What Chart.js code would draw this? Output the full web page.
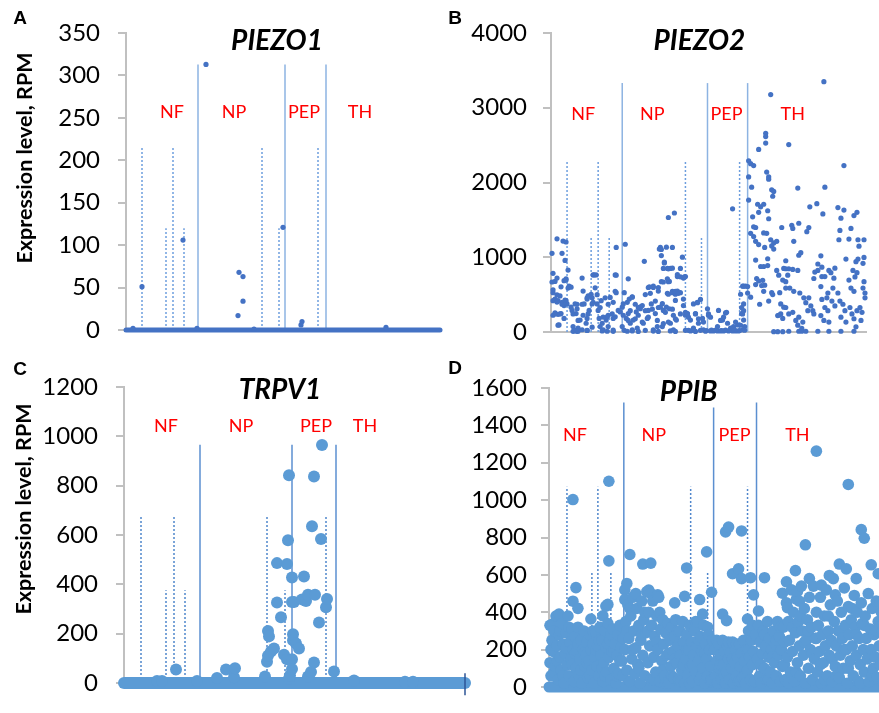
<!DOCTYPE html>
<html><head><meta charset="utf-8">
<script src="https://cdn.jsdelivr.net/npm/chart.js@4.4.0/dist/chart.umd.min.js"></script>
<style>
html,body{margin:0;padding:0;width:879px;height:713px;overflow:hidden;background:#fff;position:relative;}
canvas{position:absolute;}
</style></head><body>
<canvas id="cA" width="450" height="360" style="left:0;top:0;width:450px;height:360px"></canvas>
<canvas id="cB" width="439" height="360" style="left:440px;top:0;width:439px;height:360px"></canvas>
<canvas id="cC" width="475" height="363" style="left:0;top:350px;width:475px;height:363px"></canvas>
<canvas id="cD" width="455" height="363" style="left:440px;top:350px;width:455px;height:363px"></canvas>
<script>
// ---------- shared labels ----------
const groupNames = ['NF', 'NP', 'PEP', 'TH'];
const yAxisTitle = 'Expression level, RPM';

// ---------- Panel A : PIEZO1 (cell index, RPM) ----------
const piezo1NF = [[7,2],[16,51],[57,106],[71,2]];
const piezo1NP = [[80,313],[112,17],[113,68],[117,63],[117,34],[128,1],[157,121]];
const piezo1PEP = [[175,6],[176,10]];
const piezo1TH = [[260,3]];
const piezo1Zero = [0, 314];               // cells with 0 RPM along the whole axis
const piezo1Solid = [72, 159, 200];
const piezo1DashTall = [16, 47, 136, 192];
const piezo1DashShort = [40, 58, 153];
const piezo1Ticks = [0, 350, 50];

// ---------- Panel B : PIEZO2 ----------
const piezo2NF = [[1,1053],[6,1247],[12,1217],[15,1204],[11,1053],[14,958],[2,785],[4,677],[6,721],[1,669],[13,686],[15,712],[17,828],[18,613],[20,600],[2,526],[6,496],[9,483],[4,440],[2,419],[7,419],[11,397],[15,419],[13,354],[16,375],[4,255],[7,237],[2,224],[10,246],[13,181],[8,95],[20,332],[21,289],[24,375],[25,246],[26,311],[31,721],[32,548],[22,73],[24,22],[27,52],[29,160],[32,224],[33,375],[36,440],[37,483],[40,505],[42,764],[43,764],[45,764],[44,591],[41,375],[38,289],[36,181],[35,117],[31,30],[36,22],[42,397],[46,375],[47,289],[50,419],[48,181],[51,117],[52,30],[55,160],[56,203],[57,224],[59,462],[62,397],[64,764],[65,1131],[65,526],[62,181],[64,203],[67,289],[69,268],[49,73],[57,73],[62,9],[22,9],[26,9],[41,65],[7,91],[4,242],[9,242],[11,371],[6,401],[14,427],[2,565],[17,587],[10,604],[15,695],[36,457],[41,457],[46,500],[31,371],[26,371],[22,242],[27,155],[37,242],[49,328],[54,457],[57,371],[52,199],[61,242],[64,544],[65,760],[24,15],[27,10],[36,20],[51,15],[56,10],[62,25]];
const piezo2NP = [[74,1174],[73,526],[77,712],[71,332],[72,375],[76,397],[78,440],[81,470],[72,224],[75,181],[77,246],[71,73],[73,22],[79,117],[82,160],[81,30],[85,268],[87,224],[89,311],[91,354],[93,945],[92,117],[96,181],[97,289],[98,604],[100,375],[102,613],[104,246],[106,73],[107,548],[108,1109],[110,1023],[109,1131],[112,850],[113,936],[116,850],[117,1532],[121,1131],[123,1592],[119,850],[112,669],[116,712],[118,677],[117,505],[121,526],[124,505],[126,548],[129,526],[126,742],[129,850],[131,1001],[132,721],[132,440],[134,742],[109,332],[112,289],[115,332],[118,311],[122,224],[125,160],[122,30],[94,22],[86,52],[102,30],[111,73],[119,117],[132,354],[134,224],[136,246],[142,375],[146,397],[144,246],[139,160],[142,52],[147,117],[151,181],[152,30],[137,22],[134,22],[142,22],[149,22],[110,1104],[115,1135],[113,923],[117,845],[121,854],[126,767],[129,738],[133,738],[110,673],[117,673],[97,595],[102,595],[107,595],[121,544],[124,544],[116,518],[127,518],[81,466],[94,501],[99,518],[84,371],[89,336],[104,414],[111,379],[124,423],[79,285],[87,328],[94,285],[101,306],[107,328],[114,263],[121,306],[129,242],[134,263],[77,155],[84,177],[91,133],[97,198],[106,155],[112,112],[117,133],[124,177],[137,198],[144,242],[147,177],[152,133],[146,392],[149,436],[136,242],[76,10],[81,15],[87,8],[102,12],[107,8],[119,15],[124,8],[139,15],[144,8],[154,10]];
const piezo2PEP = [[156,311],[157,224],[167,289],[174,255],[176,117],[181,1648],[171,160],[182,73],[186,95],[189,505],[191,613],[192,613],[194,613],[192,375],[190,246],[192,160],[193,73],[191,30],[159,15],[162,15],[166,15],[169,15],[172,15],[177,15],[181,15],[184,15],[187,15],[166,73],[179,52],[157,242],[159,198],[175,263],[172,198],[169,155],[184,134],[189,90],[191,242],[192,285],[190,328],[196,608],[196,522],[155,20],[160,25],[164,25],[170,20],[174,25],[178,20],[183,25],[188,20],[193,25]];
const piezo2TH = [[219,3176],[214,2658],[214,2615],[214,2528],[207,2442],[237,2507],[197,2291],[199,2252],[202,2226],[197,2075],[200,1937],[197,1765],[215,2140],[217,2075],[217,2045],[220,1903],[222,1881],[221,1816],[206,1709],[209,1674],[212,1709],[207,1601],[216,1622],[217,1515],[201,1541],[202,1407],[204,1398],[199,1320],[202,1277],[204,1213],[207,1169],[215,1320],[219,1234],[222,1191],[225,1213],[230,1398],[204,962],[209,876],[212,876],[216,889],[205,716],[207,682],[211,691],[213,626],[225,824],[227,760],[234,846],[236,760],[231,695],[234,587],[221,501],[226,220],[229,242],[234,328],[222,5],[226,5],[231,5],[199,466],[212,544],[217,414],[208,371],[228,526],[229,375],[227,224],[232,332],[231,181],[232,850],[204,634],[210,621],[212,1325],[213,1131],[216,980],[220,1152],[222,1109],[220,526],
[272,3349],[292,2226],[246,1925],[273,1937],[258,1674],[265,1717],[271,1579],[286,1665],[292,1631],[289,1523],[302,1558],[305,1601],[240,1428],[241,1385],[247,1455],[257,1398],[255,1342],[288,1359],[299,1385],[287,1234],[297,1243],[306,1234],[312,1234],[242,1213],[307,1148],[249,1061],[247,1027],[294,975],[306,975],[304,941],[312,997],[269,1019],[266,910],[311,919],[234,953],[237,846],[241,837],[246,824],[270,867],[266,824],[263,802],[277,824],[279,794],[283,854],[301,824],[305,794],[303,737],[262,716],[234,673],[238,587],[242,544],[248,522],[269,608],[276,522],[281,587],[286,522],[297,695],[299,587],[302,544],[312,673],[311,587],[313,522],[313,457],[252,457],[254,392],[257,457],[259,349],[256,285],[261,285],[262,242],[270,436],[275,457],[280,414],[273,328],[276,285],[283,349],[288,414],[291,371],[293,285],[298,328],[300,242],[305,285],[310,263],[308,328],[237,242],[241,263],[244,155],[247,198],[251,133],[246,91],[250,48],[269,220],[272,155],[277,133],[289,198],[294,133],[302,177],[309,155],[304,69],[237,10],[247,10],[250,10],[254,10],[266,10],[277,10],[289,10],[302,10],[270,742],[273,742],[282,720]];
const piezo2Solid = [71, 156, 196];
const piezo2DashTall = [16, 47, 134, 188];
const piezo2DashShort = [40, 58, 150];
const piezo2Ticks = [0, 4000, 1000];

// ---------- Panel C : TRPV1 ----------
const trpv1NF = [[33,8],[38,8],[52,55],[73,8]];
const trpv1NP = [[93,20],[102,55],[110,23],[111,60],[141,26],[143,86],[144,111],[144,211],[145,189],[147,128],[150,140],[153,326],[153,486],[157,267],[160,115],[163,96],[163,482],[164,579],[165,842],[165,18],[166,30]];
const trpv1PEP = [[168,428],[168,328],[168,96],[168,57],[169,198],[169,173],[170,328],[172,160],[175,140],[178,339],[180,432],[182,332],[184,358],[184,26],[187,45],[188,635],[190,837],[190,83],[191,358],[195,245],[197,584],[198,965],[202,307],[203,341],[210,47]];
const trpv1TH = [[230,10],[281,5],[289,5]];
const trpv1Zero = [0, 341];
const trpv1Solid = [76, 168, 212];
const trpv1DashTall = [17, 50, 143, 202];
const trpv1DashShort = [42, 61, 161];
const trpv1Ticks = [0, 1200, 200];

// ---------- Panel D : PPIB ----------
const ppibNF = [[1,130],[1,330],[2,60],[2,200],[3,250],[4,190],[4,338],[5,300],[5,80],[6,110],[7,380],[8,220],[8,140],[9,40],[10,280],[10,390],[11,160],[11,300],[12,90],[13,340],[14,230],[14,60],[15,20],[16,180],[17,290],[17,210],[18,120],[19,380],[20,60],[20,320],[21,240],[22,150],[23,310],[23,120],[24,200],[24,1003],[24,459],[25,30],[26,270],[26,180],[27,100],[27,532],[28,190],[29,320],[29,230],[29,421],[30,60],[31,150],[32,250],[32,90],[33,20],[34,200],[35,300],[35,180],[36,110],[37,170],[38,240],[38,130],[39,50],[40,140],[41,280],[41,60],[42,200],[42,364],[43,90],[44,230],[44,300],[45,20],[46,160],[47,290],[47,200],[48,110],[49,220],[50,60],[50,250],[51,320],[52,170],[53,250],[53,100],[54,30],[54,381],[55,130],[56,300],[56,60],[57,210],[57,433],[58,80],[59,340],[59,230],[59,442],[60,160],[60,1101],[60,675],[61,250],[62,40],[62,280],[63,190],[64,310],[65,100],[65,200],[66,230],[67,20],[68,170],[68,60],[69,280],[70,70],[71,330],[71,140],[72,210],[73,140],[74,260],[74,60]];
const ppibNP = [[76,520],[76,200],[76,468],[77,350],[78,90],[78,300],[78,554],[79,440],[80,260],[81,30],[81,420],[81,709],[82,380],[83,150],[84,480],[84,200],[85,300],[86,70],[87,210],[87,500],[88,420],[89,120],[90,330],[90,100],[91,20],[92,250],[93,460],[93,280],[94,170],[94,658],[95,360],[96,60],[96,400],[97,290],[98,510],[99,130],[99,300],[100,400],[100,519],[101,220],[102,40],[102,500],[102,663],[103,330],[104,460],[105,160],[105,40],[106,270],[107,80],[108,380],[108,240],[109,200],[109,493],[110,480],[111,30],[111,400],[112,310],[113,140],[114,360],[114,90],[115,230],[116,60],[117,290],[117,20],[118,170],[119,340],[120,20],[120,180],[121,250],[122,110],[123,320],[123,60],[124,190],[125,50],[126,270],[126,150],[126,450],[127,360],[128,130],[129,220],[129,300],[130,40],[131,300],[132,170],[132,30],[133,90],[134,350],[135,240],[135,120],[136,20],[136,485],[137,150],[138,280],[138,200],[138,637],[139,60],[140,200],[141,330],[141,20],[142,110],[143,240],[144,30],[144,120],[145,170],[146,300],[147,80],[147,350],[148,220],[149,350],[150,140],[150,250],[151,40],[151,468],[152,270],[153,190],[153,60],[154,100],[154,390],[155,330],[156,20],[156,180],[157,230],[158,150],[158,723],[159,60],[159,320],[160,280],[161,200],[162,110],[162,30],[163,40],[163,507],[164,250]];
const ppibPEP = [[166,200],[167,60],[168,140],[168,250],[169,20],[170,230],[171,100],[172,170],[172,120],[173,40],[174,250],[174,390],[175,120],[176,190],[176,60],[177,20],[177,830],[178,80],[178,355],[179,220],[180,150],[180,240],[180,856],[181,40],[182,180],[183,100],[184,240],[184,150],[184,606],[185,20],[186,130],[187,200],[188,60],[188,230],[189,160],[190,30],[190,632],[191,230],[192,110],[192,30],[193,180],[193,835],[193,580],[194,50],[195,250],[196,140],[196,60],[197,20],[198,200],[199,90],[199,364],[200,300],[200,200],[201,160],[202,40],[202,585],[203,250],[204,120],[204,330],[205,190],[205,493],[206,30],[207,280]];
const ppibTH = [[209,150],[210,330],[210,407],[211,60],[212,240],[212,120],[213,20],[214,180],[215,300],[216,100],[216,280],[216,585],[217,220],[218,40],[219,350],[220,160],[220,40],[221,260],[222,80],[223,200],[224,20],[224,160],[225,300],[226,130],[227,230],[228,60],[228,250],[229,350],[230,170],[231,270],[232,30],[232,320],[233,200],[234,110],[234,502],[235,320],[236,240],[236,120],[237,40],[238,450],[238,563],[239,160],[239,425],[240,350],[240,20],[241,250],[242,80],[243,520],[244,190],[244,320],[245,400],[246,30],[247,290],[247,623],[248,470],[248,80],[249,130],[249,511],[250,350],[251,220],[251,459],[252,60],[252,380],[253,540],[254,300],[255,170],[256,420],[256,240],[257,20],[257,761],[258,250],[259,360],[260,100],[260,300],[261,480],[261,580],[262,200],[263,320],[264,40],[264,180],[265,540],[266,150],[267,260],[268,400],[268,260],[268,1262],[269,80],[270,330],[271,190],[272,480],[272,120],[273,20],[273,545],[274,280],[275,130],[276,380],[276,40],[277,220],[278,520],[279,60],[280,300],[280,380],[281,170],[281,597],[282,440],[283,250],[284,30],[284,150],[285,580],[286,350],[287,110],[287,493],[288,220],[288,60],[289,460],[290,300],[291,50],[291,658],[292,170],[292,300],[293,400],[294,260],[295,100],[296,530],[296,200],[297,330],[298,200],[298,632],[299,20],[300,430],[300,100],[300,1084],[301,280],[302,140],[303,360],[304,220],[304,420],[305,60],[306,490],[307,320],[308,170],[308,280],[308,580],[309,400],[310,30],[311,260],[312,120],[312,20],[313,450],[313,842],[314,340],[315,200],[316,80],[316,330],[316,796],[317,380],[318,260],[319,150],[320,500],[320,180],[321,30],[322,310],[323,200],[323,654],[324,420],[324,60],[325,100],[326,280],[327,160],[328,460],[328,300],[329,50],[330,350],[330,606],[331,220],[332,120],[332,450],[333,400],[334,290],[335,30],[336,180],[336,350],[337,480],[338,250],[339,100],[340,340],[340,150]];
const ppibZero = [0, 341];
const ppibSolid = [75, 165, 208];
const ppibSolidTop = [1522, 1496, 1522];
const ppibDashTall = [18, 49, 142, 199];
const ppibDashShort = [43, 62, 159];
const ppibTicks = [0, 1600, 200];

// ---------- rendering helpers ----------
const pts = arr => arr.map(p => ({x: p[0], y: p[1]}));
const vline = (x, top, color, dash) => ({
  type: 'line', data: [{x: x, y: 0}, {x: x, y: top}], borderColor: color, borderWidth: 1.5,
  borderDash: dash ? [2, 2] : [], pointRadius: 0, fill: false, tension: 0, clip: false, order: 3
});

const panelText = {
  id: 'panelText',
  afterDatasetsDraw(chart, args, o) {
    const ctx = chart.ctx, xs = chart.scales.x, ys = chart.scales.y;
    ctx.save();
    ctx.textAlign = 'center'; ctx.textBaseline = 'middle';
    ctx.fillStyle = '#000';
    ctx.font = 'italic bold 28px Lato';
    ctx.fillText(o.title, xs.getPixelForValue(o.titleAt[0]), ys.getPixelForValue(o.titleAt[1]));
    ctx.fillStyle = '#ff0000';
    ctx.font = '18px Lato';
    groupNames.forEach((g, i) => ctx.fillText(g, xs.getPixelForValue(o.groupX[i]), ys.getPixelForValue(o.groupY)));
    ctx.fillStyle = '#000';
    ctx.font = 'bold 19px "Liberation Sans", Arial, sans-serif';
    ctx.fillText(o.letter, o.letterAt[0], o.letterAt[1]);
    if (o.yTitle) {
      ctx.translate(o.yTitleAt[0], o.yTitleAt[1]);
      ctx.rotate(-Math.PI / 2);
      ctx.font = 'bold 21.5px Lato';
      ctx.fillText(yAxisTitle, 0, 0);
    }
    ctx.restore();
  }
};

function makePanel(id, c) {
  const ds = [];
  c.solid.forEach((x, i) => ds.push(vline(x, Array.isArray(c.solidTop) ? c.solidTop[i] : c.solidTop, c.lineColor, false)));
  c.dashTall.forEach(x => ds.push(vline(x, c.dashTallTop, c.dashColor, true)));
  c.dashShort.forEach(x => ds.push(vline(x, c.dashShortTop, c.dashColor, true)));
  if (c.zero) ds.push({type: 'line', data: [{x: c.zero[0], y: 0}, {x: c.zero[1], y: 0}], borderColor: c.dotColor,
    borderWidth: c.zeroWidth, borderCapStyle: 'round', pointRadius: 0, fill: false, clip: false, order: 2});
  if (c.endTick) ds.push({type: 'line', data: [{x: c.endTick[0], y: c.endTick[1]}, {x: c.endTick[0], y: c.endTick[2]}],
    borderColor: '#2e5597', borderWidth: 1.5, pointRadius: 0, fill: false, clip: false, order: 1});
  ds.push({type: 'scatter', data: pts([].concat(...c.groups)), pointRadius: c.r, pointBackgroundColor: c.dotColor,
    pointBorderWidth: 0, showLine: false, clip: false, order: 0});
  new Chart(document.getElementById(id), {
    type: 'scatter',
    data: {datasets: ds},
    options: {
      responsive: false, animation: false, events: [],
      layout: {padding: {left: 0, top: c.pad[0], right: c.pad[1], bottom: c.pad[2]}},
      plugins: {legend: {display: false}, tooltip: {enabled: false}, panelText: c.text},
      scales: {
        x: {type: 'linear', min: 0, max: c.xMax, ticks: {display: false},
            grid: {display: false, drawTicks: false}, border: {display: true, color: '#c0c0c0', width: 2},
            afterFit(s) { s.height = 0; }},
        y: {type: 'linear', min: c.ticks[0], max: c.ticks[1],
            ticks: {stepSize: c.ticks[2], color: '#000', padding: c.tickPad, font: {family: 'Lato', size: 24, lineHeight: 1},
                    callback: v => String(v)},
            grid: {display: true, drawOnChartArea: false, drawTicks: true, tickLength: 8, color: '#c0c0c0', lineWidth: 2},
            border: {display: true, color: '#c0c0c0', width: 2},
            afterFit(s) { s.width = c.yWidth; }}
      }
    },
    plugins: [panelText]
  });
}

makePanel('cA', {
  groups: [piezo1NF, piezo1NP, piezo1PEP, piezo1TH], zero: piezo1Zero, zeroWidth: 5, r: 2.6,
  dotColor: '#4472c4', lineColor: '#8db3e2', dashColor: '#6d9ede',
  solid: piezo1Solid, solidTop: 313, dashTall: piezo1DashTall, dashTallTop: 215, dashShort: piezo1DashShort, dashShortTop: 120,
  xMax: 314, ticks: piezo1Ticks, yWidth: 126, tickPad: 18, pad: [33, 10, 18],
  text: {title: 'PIEZO1', titleAt: [151, 341], groupX: [46, 108, 178, 234], groupY: 257, letter: 'A', letterAt: [20, 19], yTitle: true, yTitleAt: [25, 158]}
});
makePanel('cB', {
  groups: [piezo2NF, piezo2NP, piezo2PEP, piezo2TH], r: 2.6,
  dotColor: '#4472c4', lineColor: '#8db3e2', dashColor: '#6d9ede',
  solid: piezo2Solid, solidTop: 3330, dashTall: piezo2DashTall, dashTallTop: 2290, dashShort: piezo2DashShort, dashShortTop: 1282,
  xMax: 314, ticks: piezo2Ticks, yWidth: 111, tickPad: 16, pad: [33, 13, 18],
  text: {title: 'PIEZO2', titleAt: [148, 3887], groupX: [32, 101, 175, 241], groupY: 2920, letter: 'B', letterAt: [15, 19], yTitle: false}
});
makePanel('cC', {
  groups: [trpv1NF, trpv1NP, trpv1PEP, trpv1TH], zero: trpv1Zero, zeroWidth: 12, r: 6, endTick: [341, 40, -50],
  dotColor: '#5b9bd5', lineColor: '#5b8fd0', dashColor: '#4f86cc',
  solid: trpv1Solid, solidTop: 966, dashTall: trpv1DashTall, dashTallTop: 675, dashShort: trpv1DashShort, dashShortTop: 376,
  xMax: 341, ticks: trpv1Ticks, yWidth: 124, tickPad: 18, pad: [37, 10, 13],
  text: {title: 'TRPV1', titleAt: [156, 1188], groupX: [42, 117, 192, 241], groupY: 1042, letter: 'C', letterAt: [20, 20], yTitle: true, yTitleAt: [24, 159]}
});
makePanel('cD', {
  groups: [ppibNF, ppibNP, ppibPEP, ppibTH], zero: ppibZero, zeroWidth: 11, r: 5.8,
  dotColor: '#5b9bd5', lineColor: '#5b8fd0', dashColor: '#4f86cc',
  solid: ppibSolid, solidTop: ppibSolidTop, dashTall: ppibDashTall, dashTallTop: 1072, dashShort: ppibDashShort, dashShortTop: 616,
  xMax: 341, ticks: ppibTicks, yWidth: 109, tickPad: 14, pad: [38, 5, 16],
  text: {title: 'PPIB', titleAt: [140, 1581], groupX: [26, 105, 186, 249], groupY: 1348, letter: 'D', letterAt: [15, 19], yTitle: false}
});
</script>
</body></html>
